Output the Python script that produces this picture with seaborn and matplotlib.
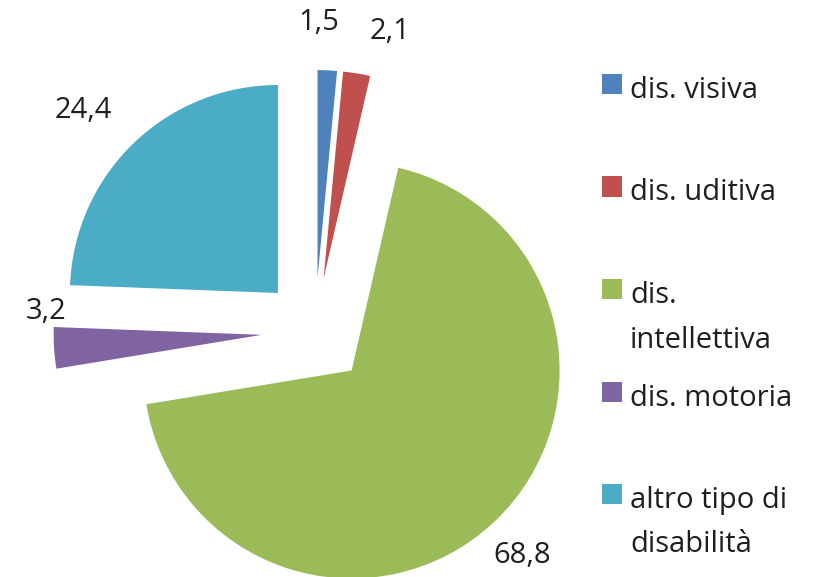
import numpy as np
import matplotlib.pyplot as plt
import matplotlib.patches as mpatches
import seaborn as sns

# data
categories = ["dis. visiva", "dis. uditiva", "dis.\nintellettiva", "dis. motoria", "altro tipo di\ndisabilità"]
values = [1.5, 2.1, 68.8, 3.2, 24.4]
value_labels = ["1,5", "2,1", "68,8", "3,2", "24,4"]
colors = ["#4F81BD", "#C0504D", "#9BBB59", "#8064A2", "#4BACC6"]

sns.set_theme(style="white")
plt.rcParams["font.family"] = ["Open Sans", "DejaVu Sans"]
palette = sns.color_palette(colors)
text_col = "#1f1f1f"

W, H = 820, 577
fig = plt.figure(figsize=(W / 100, H / 100), dpi=100)
ax = fig.add_axes([0, 0, 1, 1])

wedges, _ = ax.pie(
    values,
    colors=palette,
    startangle=90,
    counterclock=False,
    explode=[0.257] * len(values),
    radius=1,
    wedgeprops=dict(linewidth=0),
)

# view window: pie centre sits left of middle, bottom is cropped
R = 208
ax.set_xlim(-315 / R, (W - 315) / R)
ax.set_ylim(-(H - 331.5) / R, 331.5 / R)
ax.set_aspect("auto")
ax.axis("off")

# value labels: placed from each slice's apex, near its bisector (Excel best fit)
label_dist = [1.23, 1.23, 1.21, 1.04, 1.28]
label_shift = [2.4, -5.9, -0.6, -9.7, 2.9]
for w, txt, d, s in zip(wedges, value_labels, label_dist, label_shift):
    ang = np.deg2rad((w.theta1 + w.theta2) / 2 + s)
    x0, y0 = w.center
    ax.text(x0 + d * np.cos(ang), y0 + d * np.sin(ang), txt,
            ha="center", va="center", fontsize=21, color=text_col)

# legend on the right, handle aligned with the first text line
for i, (cat, col) in enumerate(zip(categories, palette)):
    base = 98 + 102.5 * i
    fig.patches.append(mpatches.Rectangle(
        (602 / W, 1 - (base - 4) / H), 20 / W, 20 / H,
        transform=fig.transFigure, facecolor=col, edgecolor="none"))
    for j, line in enumerate(cat.split("\n")):
        fig.text(630 / W, 1 - (base + 44.5 * j) / H, line,
                 ha="left", va="baseline", fontsize=21, color=text_col)

fig.savefig("out.png", dpi=100)
